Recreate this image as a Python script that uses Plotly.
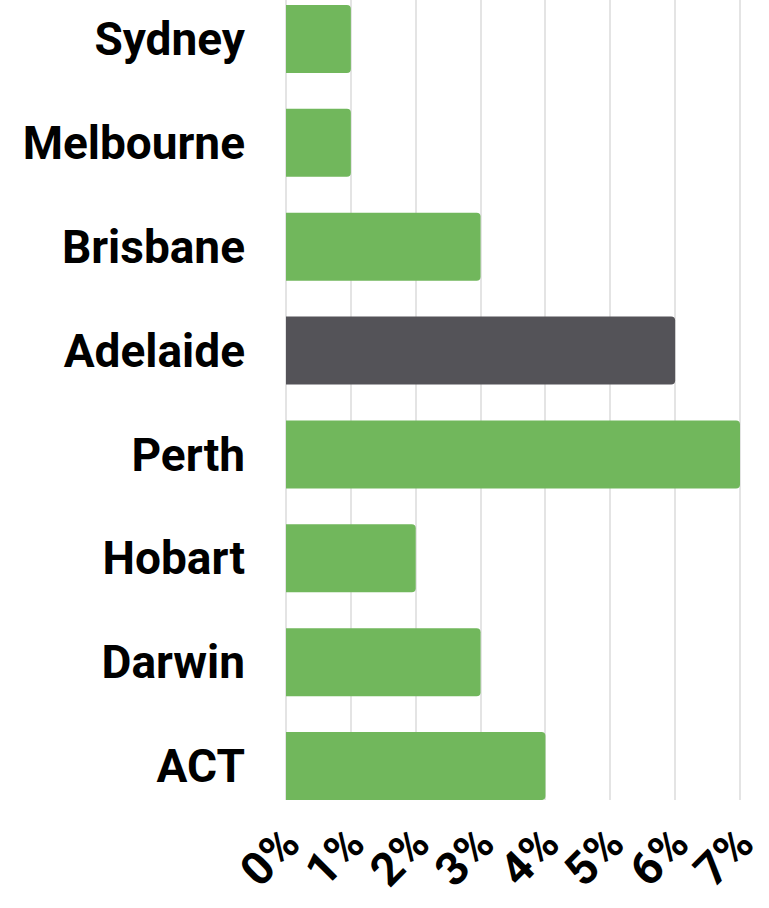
import plotly.graph_objects as go

cities = ["Sydney", "Melbourne", "Brisbane", "Adelaide", "Perth", "Hobart", "Darwin", "ACT"]
values = [1, 1, 3, 6, 7, 2, 3, 4]
highlight = "Adelaide"
tick_vals = [0, 1, 2, 3, 4, 5, 6, 7]
tick_text = ["0%", "1%", "2%", "3%", "4%", "5%", "6%", "7%"]

GREEN = "#71b75c"
DARK = "#545358"
colors = [DARK if c == highlight else GREEN for c in cities]

FONT = "Liberation Sans Narrow, Arial Narrow, Roboto, sans-serif"

fig = go.Figure(go.Bar(
    y=cities, x=values, orientation="h",
    marker=dict(color=colors, line=dict(width=0), cornerradius=4),
    width=0.655,
))

fig.update_layout(
    width=769, height=908,
    margin=dict(l=286, r=19, t=0, b=108),
    paper_bgcolor="white", plot_bgcolor="white",
    showlegend=False,
    xaxis=dict(
        range=[0, 7.154], tickvals=tick_vals, ticktext=tick_text,
        tickangle=-45, showgrid=True, gridcolor="#e4e4e4", gridwidth=1.5,
        zeroline=True, zerolinecolor="#e4e4e4", zerolinewidth=1.5,
        showline=False, ticks="", ticklabelstandoff=6, automargin=False,
        tickfont=dict(family=FONT, size=46, color="black", weight="bold"),
    ),
    yaxis=dict(
        categoryorder="array", categoryarray=cities,
        range=[7.327, -0.375], showgrid=False, zeroline=False, showline=False,
        ticks="", ticklabelstandoff=40, automargin=False,
        tickfont=dict(family=FONT, size=46, color="black", weight="bold"),
    ),
)

fig.write_html("out.html", config={"displayModeBar": False},
               post_script="document.body.style.margin='0';")
